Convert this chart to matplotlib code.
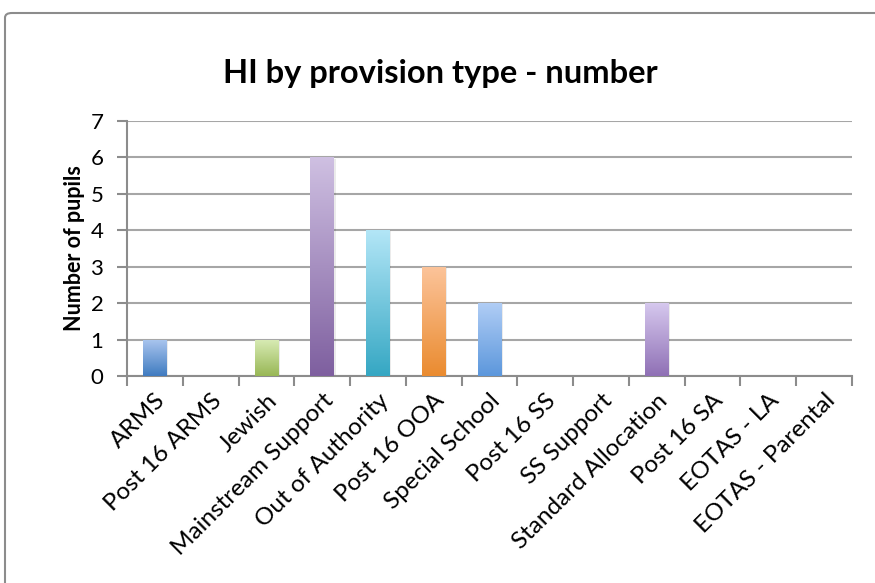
import matplotlib
matplotlib.use("Agg")
import matplotlib.pyplot as plt
import matplotlib.transforms as mtransforms
import numpy as np
from matplotlib.colors import LinearSegmentedColormap
from matplotlib.patches import FancyBboxPatch

categories = ["ARMS", "Post 16 ARMS", "Jewish", "Mainstream Support",
              "Out of Authority", "Post 16 OOA", "Special School", "Post 16 SS",
              "SS Support", "Standard Allocation", "Post 16 SA", "EOTAS - LA",
              "EOTAS - Parental"]
pupils = [1, 0, 1, 6, 4, 3, 2, 0, 0, 2, 0, 0, 0]

# (top, bottom) gradient colours per bar
gradients = [
    ("#abc6ef", "#3f7bc0"),
    ("#f0a8a6", "#c0504d"),
    ("#d9ecb6", "#98b755"),
    ("#cfc0e2", "#7e5f9f"),
    ("#b3e6f7", "#35a7c3"),
    ("#fcc49b", "#ea8b2f"),
    ("#b0cdf5", "#5c97dc"),
    ("#f0a8a6", "#c0504d"),
    ("#d9ecb6", "#98b755"),
    ("#d6c8ee", "#8f70b5"),
    ("#b3e6f7", "#35a7c3"),
    ("#fcc49b", "#ea8b2f"),
    ("#abc6ef", "#3f7bc0"),
]

plt.rcParams["font.family"] = ["Lato", "DejaVu Sans"]

fig = plt.figure(figsize=(8.75, 5.83), dpi=100)
ax = fig.add_axes([127 / 875, 1 - 376 / 583, (852 - 127) / 875, (376 - 121) / 583])

# chart frame
frame = FancyBboxPatch((5 / 875, -0.05), 1.05, 1 - 13 / 583 + 0.05,
                       boxstyle="round,pad=0,rounding_size=0.008",
                       transform=fig.transFigure, facecolor="none",
                       edgecolor="#8c8c8c", linewidth=1.5, clip_on=False)
fig.patches.append(frame)

x = np.arange(len(categories))
bars = ax.bar(x, pupils, width=0.42, color="none", edgecolor="none", zorder=3)

grad = np.linspace(0, 1, 256).reshape(-1, 1)
for bar, (top, bottom) in zip(bars, gradients):
    h = bar.get_height()
    if h <= 0:
        continue
    x0, w = bar.get_x(), bar.get_width()
    # soft shadow
    ax.add_patch(plt.Rectangle((x0 + 0.03, 0), w, h - 0.03, facecolor="#000000",
                               alpha=0.08, edgecolor="none", zorder=2.5))
    cmap = LinearSegmentedColormap.from_list("g", [bottom, top])
    im = ax.imshow(grad, cmap=cmap, extent=(x0, x0 + w, 0, h), origin="lower",
                   aspect="auto", zorder=3, interpolation="bilinear")
    im.set_clip_path(bar)

ax.set_xlim(-0.5, len(categories) - 0.5)
ax.set_ylim(0, 7)
ax.set_yticks(range(0, 8))
ax.yaxis.grid(True, color="#a6a6a6", linewidth=1.5, zorder=0)
ax.set_axisbelow(True)

ax.set_xticks(x)
ax.set_xticklabels(categories, rotation=45, ha="right", rotation_mode="anchor",
                   fontsize=17.5)
shift = mtransforms.ScaledTranslation(-4 / 100, 0, fig.dpi_scale_trans)
for lbl in ax.get_xticklabels():
    lbl.set_transform(lbl.get_transform() + shift)
ax.set_xticks(np.arange(-0.5, len(categories)), minor=True)
ax.tick_params(axis="x", which="major", length=0, pad=10)
ax.tick_params(axis="x", which="minor", length=7, width=1.5, color="#8c8c8c")
ax.tick_params(axis="y", length=7, width=1.5, color="#8c8c8c", labelsize=16, pad=10)

for side in ["top", "right"]:
    ax.spines[side].set_visible(False)
for side in ["left", "bottom"]:
    ax.spines[side].set_color("#8c8c8c")
    ax.spines[side].set_linewidth(1.5)

ax.set_ylabel("Number of pupils", fontsize=15.5, fontweight="bold", labelpad=4)
fig.text(440 / 875, 1 - 73 / 583, "HI by provision type - number",
         ha="center", va="center", fontsize=23.5, fontweight="bold")

fig.savefig("out.png", dpi=100)
